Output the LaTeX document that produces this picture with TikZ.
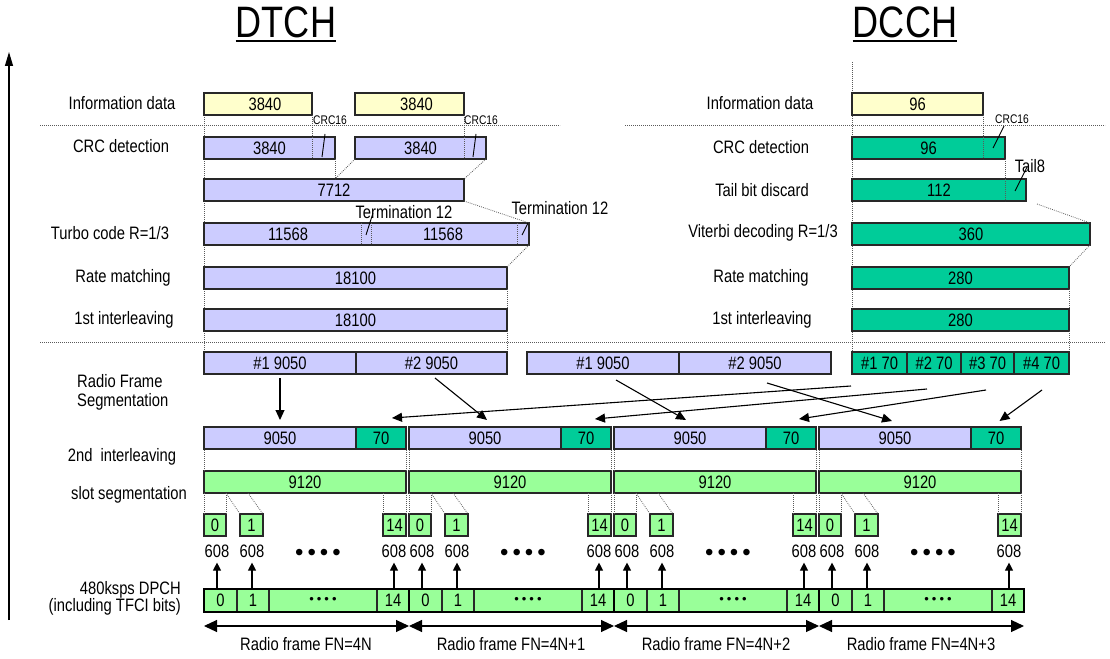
\documentclass[tikz,border=0pt]{standalone}
\usepackage{fontspec}
\setmainfont[FakeStretch=0.82]{Liberation Sans}
\newfontfamily\plainsans{Liberation Sans}
\usetikzlibrary{arrows.meta,fit}
\definecolor{ylw}{RGB}{255,255,204}
\definecolor{lav}{RGB}{204,204,255}
\definecolor{tealc}{RGB}{0,204,153}
\definecolor{lgr}{RGB}{153,255,153}
\definecolor{bord}{RGB}{40,40,40}
\definecolor{dotc}{RGB}{90,90,90}
\newcommand\lbl{\fontsize{18}{19}\selectfont}
\newcommand\sml{\fontsize{12.5}{13}\selectfont}
\newcommand\ttl{\fontsize{44}{46}\selectfont}
\newcommand\dpdots{{\plainsans\fontsize{13}{13}\selectfont •\hspace{3pt}•\hspace{3pt}•\hspace{3pt}•}}
\newcommand\bigdots{{\plainsans\fontsize{24}{24}\selectfont •\hspace{4pt}•\hspace{4pt}•\hspace{4pt}•}}
\newcommand\mybox[5]{\node[blk,fill=#2,fit={(#3) (#4)}] (#1) {};\node[txt] (#1t) at (#1.center) {#5};}
\tikzset{
  blk/.style={draw=bord, line width=1.3pt, inner sep=0pt, outer sep=0pt},
  txt/.style={inner sep=0pt, font=\lbl},
  smalltxt/.style={inner sep=0pt, font=\sml},
  dotl/.style={draw=dotc, line width=0.8pt, dash pattern=on 0.8pt off 1.2pt},
  tickl/.style={draw=black, line width=0.9pt},
  sarr/.style={line width=1.1pt, -{Triangle[length=10pt,width=9pt]}},
  uparr/.style={line width=1.1pt, -{Triangle[length=8pt,width=8pt]}},
  darr/.style={line width=1.1pt, {Triangle[length=13pt,width=12pt]}-{Triangle[length=13pt,width=12pt]}},
  thick2/.style={line width=2.6pt, draw=black}
}
\begin{document}
\begin{tikzpicture}[x=1pt,y=-1pt]
\useasboundingbox (0,0) rectangle (1110,658);

% titles
\node[font=\ttl, inner sep=0pt, anchor=base] (dtch) at (286,38) {DTCH};
\draw[line width=2pt] ([yshift=-3.5pt]dtch.base west) -- ([yshift=-3.5pt]dtch.base east);
\node[font=\ttl, inner sep=0pt, anchor=base] (dcch) at (905,38) {DCCH};
\draw[line width=2pt] ([yshift=-3.5pt]dcch.base west) -- ([yshift=-3.5pt]dcch.base east);

% vertical axis arrow
\coordinate (ax0) at (9,620);
\coordinate (ax1) at (9,52);
\draw[line width=1.1pt, -{Triangle[length=14pt,width=8pt]}] (ax0) -- (ax1);

% left labels
\node[txt] (lInfo) at (122,103) {Information data};
\node[txt] (lCrc) at (121,146) {CRC detection};
\node[txt] (lTurbo) at (110,233) {Turbo code R=1/3};
\node[txt] (lRate) at (123,278) {Rate matching};
\node[txt] (lInt) at (124,320) {1st interleaving};
\node[txt, align=left, anchor=west] (lRFS) at (77,392) {Radio Frame\\Segmentation};
\node[txt] (l2nd) at (122,457) {2nd~ interleaving};
\node[txt] (lSlot) at (129,495) {slot segmentation};
\node[inner sep=0pt, font=\fontsize{18}{17}\selectfont, align=right, anchor=east] (lDpch) at (181,598) {480ksps DPCH\\(including TFCI bits)};

% right labels
\node[txt] (rInfo) at (760,103) {Information data};
\node[txt] (rCrc) at (761,147) {CRC detection};
\node[txt] (rTail) at (762,190) {Tail bit discard};
\node[txt] (rVit) at (763,233) {Viterbi decoding R=1/3};
\node[txt] (rRate) at (761,278) {Rate matching};
\node[txt] (rInt) at (762,320) {1st interleaving};

% separators
\draw[dotl] (40,125) -- (560,125);
\draw[dotl] (625,125) -- (1105,125);
\draw[dotl] (40,342) -- (1105,342);
\draw[dotl] (204,115) -- (204,352);
\draw[dotl] (852,62) -- (852,352);

% DTCH upper boxes
\mybox{infA}{ylw}{204,93}{312,115}{}
\node[txt] (infAt2) at ([xshift=7pt]infA.center) {3840};
\mybox{infB}{ylw}{355,93}{464,115}{}
\node[txt] (infBt2) at ([xshift=7pt]infB.center) {3840};
\mybox{crcA}{lav}{204,137}{335,159}{3840}
\mybox{crcB}{lav}{355,137}{486,159}{3840}
\mybox{m7712}{lav}{204,179}{464,201}{7712}
\mybox{turbo}{lav}{204,223}{529,245}{}
\node[txt] (tA) at (288,234) {11568};
\node[txt] (tB) at (443,234) {11568};
\mybox{rate}{lav}{204,267}{507,289}{18100}
\mybox{intl}{lav}{204,309}{507,331}{18100}

\draw[dotl] (312,115) -- (312,159);
\draw[dotl] (464,115) -- (464,159);
\draw[dotl] (crcA.south east) -- (m7712.north west -| crcA.south east);
\draw[dotl] (crcB.south west) -- (m7712.north west -| crcA.south east);
\draw[dotl] (crcB.south east) -- (m7712.north east);
\draw[dotl] (m7712.south east) -- (turbo.north east);
\draw[dotl] (361,223) -- (361,245);
\draw[dotl] (371,223) -- (371,245);
\draw[dotl] (517,223) -- (517,245);
\draw[dotl] (turbo.south east) -- (rate.north east);
\draw[dotl] (rate.south east) -- (intl.north east);
\draw[dotl] (intl.south east) -- (507,352);

% small labels DTCH
\node[smalltxt, anchor=west] (crcLA) at (313,120) {CRC16};
\node[smalltxt, anchor=west] (crcLB) at (464,120) {CRC16};
\coordinate (tkA) at (322,157);
\coordinate (tkB) at (473,157);
\draw[tickl] (325,134) -- (tkA);
\draw[tickl] (476,134) -- (tkB);
\node[txt] (termA) at (404,212) {Termination 12};
\node[txt] (termB) at (560,208) {Termination 12};
\coordinate (tmA) at (366,235);
\coordinate (tmB) at (522,235);
\draw[tickl] (373,213) -- (tmA);
\draw[tickl] (528,223) -- (tmB);

% DCCH upper boxes
\mybox{cinf}{ylw}{852,93}{983,115}{96}
\mybox{ccrc}{tealc}{852,137}{1005,159}{96}
\mybox{ctail}{tealc}{852,179}{1026,201}{112}
\mybox{cvit}{tealc}{852,223}{1090,245}{360}
\mybox{crate}{tealc}{852,267}{1069,289}{280}
\mybox{cintl}{tealc}{852,309}{1069,331}{280}
\draw[dotl] (983,115) -- (983,159);
\draw[dotl] (1005,159) -- (1005,201);
\draw[dotl] (1037,204) -- (cvit.north east);
\draw[dotl] (cvit.south east) -- (crate.north east);
\draw[dotl] (crate.south east) -- (cintl.north east);
\draw[dotl] (cintl.south east) -- (1069,352);
\node[smalltxt, anchor=west] (crcLC) at (995,119) {CRC16};
\coordinate (tkC) at (993,148);
\draw[tickl] (1004,126) -- (tkC);
\node[txt] (tail8) at (1030,166) {Tail8};
\coordinate (tkD) at (1015,191);
\draw[tickl] (1027,167) -- (tkD);

% radio frame segmentation boxes
\mybox{segA1}{lav}{204,352}{356,374}{\#1 9050}
\mybox{segA2}{lav}{356,352}{507,374}{\#2 9050}
\mybox{segB1}{lav}{527,352}{679,374}{\#1 9050}
\mybox{segB2}{lav}{679,352}{831,374}{\#2 9050}
\mybox{c1}{tealc}{852,352}{907,374}{\#1 70}
\mybox{c2}{tealc}{907,352}{961,374}{\#2 70}
\mybox{c3}{tealc}{961,352}{1014,374}{\#3 70}
\mybox{c4}{tealc}{1014,352}{1069,374}{\#4 70}

% frames
\foreach \X/\n/\fn in {204/A/4N,409/B/4N+1,614/C/4N+2,819/D/4N+3}{
  \mybox{i\n1}{lav}{\X,427}{\X+152,449}{9050}
  \mybox{i\n2}{tealc}{\X+152,427}{\X+202,449}{70}
  \mybox{g\n}{lgr}{\X,471}{\X+202,493}{9120}
  \mybox{s\n0}{lgr}{\X,514}{\X+22,536}{0}
  \mybox{s\n1}{lgr}{\X+36,514}{\X+59,536}{1}
  \mybox{s\n2}{lgr}{\X+179,514}{\X+202,536}{14}
  \mybox{d\n0}{lgr}{\X,589}{\X+33,612}{0}
  \mybox{d\n1}{lgr}{\X+33,589}{\X+65,612}{1}
  \mybox{d\n2}{lgr}{\X+65,589}{\X+173,612}{\dpdots}
  \mybox{d\n3}{lgr}{\X+173,589}{\X+205,612}{14}
  \node[txt] (n\n0) at (\X+13,551) {608};
  \node[txt] (n\n1) at (\X+48,551) {608};
  \node[txt] (n\n2) at (\X+190,551) {608};
  \node[inner sep=0pt] (b\n) at (\X+114,555) {\bigdots};
  \draw[uparr] (n\n0.south |- d\n0.north) -- ([yshift=-5pt]n\n0.south);
  \draw[uparr] (n\n1.south |- d\n0.north) -- ([yshift=-5pt]n\n1.south);
  \draw[uparr] (n\n2.south |- d\n0.north) -- ([yshift=-5pt]n\n2.south);
  \draw[darr] ([yshift=-14pt]d\n0.south west) -- ([yshift=-14pt]d\n3.south east);
  \node[txt] (r\n) at (\X+102,644) {Radio frame FN=\fn};
  \draw[dotl] (\X,450) -- (\X,471);
  \draw[dotl] (\X+202,450) -- (\X+202,471);
  \draw[dotl] (\X,493) -- (\X,514);
  \draw[dotl] (\X+22,493) -- (\X+22,514);
  \draw[dotl] (\X+22,493) -- (\X+36,514);
  \draw[dotl] (\X+44,493) -- (\X+59,514);
  \draw[dotl] (\X+179,493) -- (\X+179,514);
  \draw[dotl] (\X+202,493) -- (\X+202,514);
}
% thick DPCH outline
\draw[thick2] (dA0.north west) rectangle (dD3.south east);
\draw[thick2] (dB0.north west) -- (dB0.south west);
\draw[thick2] (dC0.north west) -- (dC0.south west);
\draw[thick2] (dD0.north west) -- (dD0.south west);

% segmentation arrows
\draw[sarr] ([yshift=-4pt]segA1.south) -- ([yshift=7pt]iA1.north);
\draw[sarr] ([xshift=3.5pt,yshift=-4pt]segA2.south) -- ([xshift=2pt,yshift=7pt]iB1.north);
\draw[sarr] ([xshift=13pt,yshift=-6pt]segB1.south) -- ([xshift=-4pt,yshift=7pt]iC1.north);
\draw[sarr] ([xshift=12pt,yshift=-9pt]segB2.south) -- ([xshift=-3pt,yshift=6pt]iD1.north);
\draw[sarr] ([xshift=-28.5pt,yshift=-12pt]c1.south) -- ([xshift=11pt,yshift=9pt]iA2.north);
\draw[sarr] ([xshift=-7pt,yshift=-15pt]c2.south) -- ([xshift=9pt,yshift=8pt]iB2.north);
\draw[sarr] ([xshift=-1.5pt,yshift=-16pt]c3.south) -- ([xshift=8pt,yshift=8pt]iC2.north);
\draw[sarr] ([xshift=0.5pt,yshift=-16pt]c4.south) -- ([xshift=3.5pt,yshift=6pt]iD2.north);
\end{tikzpicture}
\end{document}
